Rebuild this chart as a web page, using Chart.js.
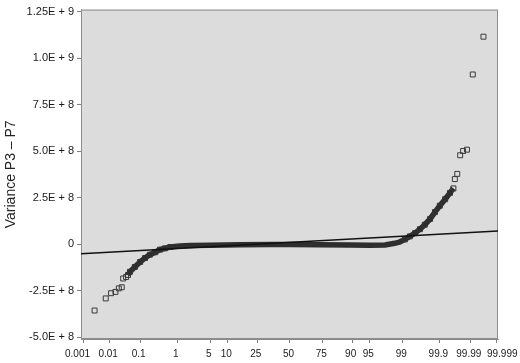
<!DOCTYPE html>
<html>
<head>
<meta charset="utf-8">
<script src="https://cdn.jsdelivr.net/npm/chart.js@4.4.1/dist/chart.umd.min.js"></script>
<style>
  html, body { margin: 0; padding: 0; background: #fff; }
  #wrap { width: 520px; height: 363px; }
</style>
</head>
<body>
<div id="wrap"><canvas id="probplot"></canvas></div>
<script>
// probability axis: cumulative percent where it is labelled
const probTicks = [0.001, 0.01, 0.1, 1, 5, 10, 25, 50, 75, 90, 95, 99, 99.9, 99.99, 99.999];
const probLabels = ['0.001', '0.01', '0.1', '1', '5', '10', '25', '50', '75', '90', '95', '99', '99.9', '99.99', '99.999'];
// value axis
const varTicks = [-5e8, -2.5e8, 0, 2.5e8, 5e8, 7.5e8, 1e9, 1.25e9];
const varLabels = ['-5.0E + 8', '-2.5E + 8', '0', '2.5E + 8', '5.0E + 8', '7.5E + 8', '1.0E + 9', '1.25E + 9'];

// sample points: normal score (z) and value in units of 1e9
const lowTailZ = [-4.03, -3.80, -3.69, -3.60, -3.53, -3.47, -3.44, -3.38];
const lowTailV = [-0.356, -0.291, -0.263, -0.256, -0.237, -0.231, -0.184, -0.176];

const bodyZ = [-3.34, -3.30, -3.20, -3.09, -2.99, -2.89, -2.78, -2.68, -2.58, -2.47, -2.27, -2.06,
               -1.65, -1.03, -0.41, 0, 0.62, 1.24, 1.65, 1.96, 2.16, 2.27, 2.37, 2.47, 2.58,
               2.68, 2.78, 2.89, 2.99, 3.09, 3.20, 3.30, 3.37];
const bodyV = [-0.165, -0.148, -0.122, -0.095, -0.074, -0.056, -0.043, -0.029, -0.022, -0.015, -0.010, -0.007,
               -0.005, -0.003, -0.002, -0.002, -0.003, -0.004, -0.006, -0.004, 0.005, 0.013, 0.026, 0.042, 0.060,
               0.081, 0.105, 0.136, 0.173, 0.207, 0.242, 0.276, 0.300];

const highTailZ = [3.40, 3.45, 3.51, 3.57, 3.65, 3.77, 3.99];
const highTailV = [0.350, 0.378, 0.478, 0.501, 0.508, 0.912, 1.115];

// reference (normal) line, ends at the plot edges
const fitZ = [-4.31, 4.29];
const fitV = [-0.0506, 0.0706];

// inverse normal cdf (Acklam) for placing the percent ticks
function probit(p) {
  const a = [-3.969683028665376e+01, 2.209460984245205e+02, -2.759285104469687e+02, 1.383577518672690e+02, -3.066479806614716e+01, 2.506628277459239e+00];
  const b = [-5.447609879822406e+01, 1.615858368580409e+02, -1.556989798598866e+02, 6.680131188771972e+01, -1.328068155288572e+01];
  const c = [-7.784894002430293e-03, -3.223964580411365e-01, -2.400758277161838e+00, -2.549732539343734e+00, 4.374664141464968e+00, 2.938163982698783e+00];
  const d = [7.784695709041462e-03, 3.224671290700398e-01, 2.445134137142996e+00, 3.754408661907416e+00];
  const pl = 0.02425;
  let q, r;
  if (p < pl) {
    q = Math.sqrt(-2 * Math.log(p));
    return (((((c[0]*q+c[1])*q+c[2])*q+c[3])*q+c[4])*q+c[5]) / ((((d[0]*q+d[1])*q+d[2])*q+d[3])*q+1);
  }
  if (p > 1 - pl) {
    q = Math.sqrt(-2 * Math.log(1 - p));
    return -(((((c[0]*q+c[1])*q+c[2])*q+c[3])*q+c[4])*q+c[5]) / ((((d[0]*q+d[1])*q+d[2])*q+d[3])*q+1);
  }
  q = p - 0.5; r = q * q;
  return (((((a[0]*r+a[1])*r+a[2])*r+a[3])*r+a[4])*r+a[5])*q / (((((b[0]*r+b[1])*r+b[2])*r+b[3])*r+b[4])*r+1);
}

const pts = (zs, vs) => zs.map((z, i) => ({ x: z, y: vs[i] * 1e9 }));

const plotBg = {
  id: 'plotBg',
  beforeDraw(chart) {
    const { ctx, chartArea: a } = chart;
    ctx.save();
    ctx.fillStyle = '#dcdcdc';
    ctx.fillRect(a.left, a.top, a.right - a.left, a.bottom - a.top);
    ctx.strokeStyle = '#8c8c8c';
    ctx.lineWidth = 1;
    ctx.strokeRect(a.left + 0.5, a.top + 0.5, a.right - a.left - 1, a.bottom - a.top - 1);
    ctx.restore();
  }
};

const family = "'Liberation Sans', Arial, sans-serif";
const lastTick = probLabels.length - 1;

new Chart(document.getElementById('probplot'), {
  type: 'scatter',
  data: {
    datasets: [
      {
        label: 'Fit',
        data: pts(fitZ, fitV),
        showLine: true,
        borderColor: '#111',
        borderWidth: 1.5,
        pointRadius: 0,
        order: 0
      },
      {
        label: 'Body',
        data: pts(bodyZ, bodyV),
        showLine: true,
        borderColor: '#2e2e2e',
        borderWidth: 5.5,
        pointStyle: 'rect',
        // the flat middle is a solid band, markers only show where it bends
        pointRadius: ctx => (Math.abs(bodyZ[ctx.dataIndex]) > 2.3 ? 3.5 : 0),
        pointBorderWidth: 1,
        pointBorderColor: '#333',
        pointBackgroundColor: 'rgba(0,0,0,0)',
        order: 1
      },
      {
        label: 'Low tail',
        data: pts(lowTailZ, lowTailV),
        pointStyle: 'rect',
        pointRadius: 3.5,
        borderWidth: 1,
        borderColor: '#3a3a3a',
        backgroundColor: 'rgba(0,0,0,0)',
        order: 1
      },
      {
        label: 'High tail',
        data: pts(highTailZ, highTailV),
        pointStyle: 'rect',
        pointRadius: 3.5,
        borderWidth: 1,
        borderColor: '#3a3a3a',
        backgroundColor: 'rgba(0,0,0,0)',
        order: 1
      }
    ]
  },
  options: {
    responsive: true,
    maintainAspectRatio: false,
    animation: false,
    layout: { padding: { top: 3, right: 22, left: 0, bottom: 0 } },
    plugins: { legend: { display: false }, tooltip: { enabled: false } },
    scales: {
      x: {
        type: 'linear',
        min: -4.31,
        max: 4.29,
        afterBuildTicks: s => { s.ticks = probTicks.map(p => ({ value: probit(p / 100) })); },
        // fixed height; the end labels may hang into the outer margin
        afterFit: s => { s.height = 24; s.paddingLeft = 0; s.paddingRight = 0; },
        ticks: {
          autoSkip: false,
          maxRotation: 0,
          padding: 5,
          labelOffset: -1.5,
          color: '#1a1a1a',
          font: { family, size: 10 },
          // end labels sit a little outward so they do not touch their neighbours
          callback: (v, i) => i === 0 ? probLabels[i] + '   '
                            : i === lastTick ? '     ' + probLabels[i]
                            : probLabels[i]
        },
        grid: { drawOnChartArea: false, tickLength: 4, tickColor: '#808080' },
        border: { color: '#8c8c8c' }
      },
      y: {
        type: 'linear',
        min: -5.09e8,
        max: 1.2605e9,
        afterBuildTicks: s => { s.ticks = varTicks.map(v => ({ value: v })); },
        afterFit: s => { s.width = 81; },
        ticks: {
          padding: 3,
          color: '#1a1a1a',
          font: { family, size: 11 },
          callback: (v, i) => varLabels[i]
        },
        grid: { drawOnChartArea: false, tickLength: 4, tickColor: '#808080' },
        border: { color: '#8c8c8c' },
        title: {
          display: true,
          text: 'Variance P3 \u2013 P7',
          color: '#222',
          font: { family, size: 14 },
          padding: { top: 3, bottom: 0 }
        }
      }
    }
  },
  plugins: [plotBg]
});
</script>
</body>
</html>
